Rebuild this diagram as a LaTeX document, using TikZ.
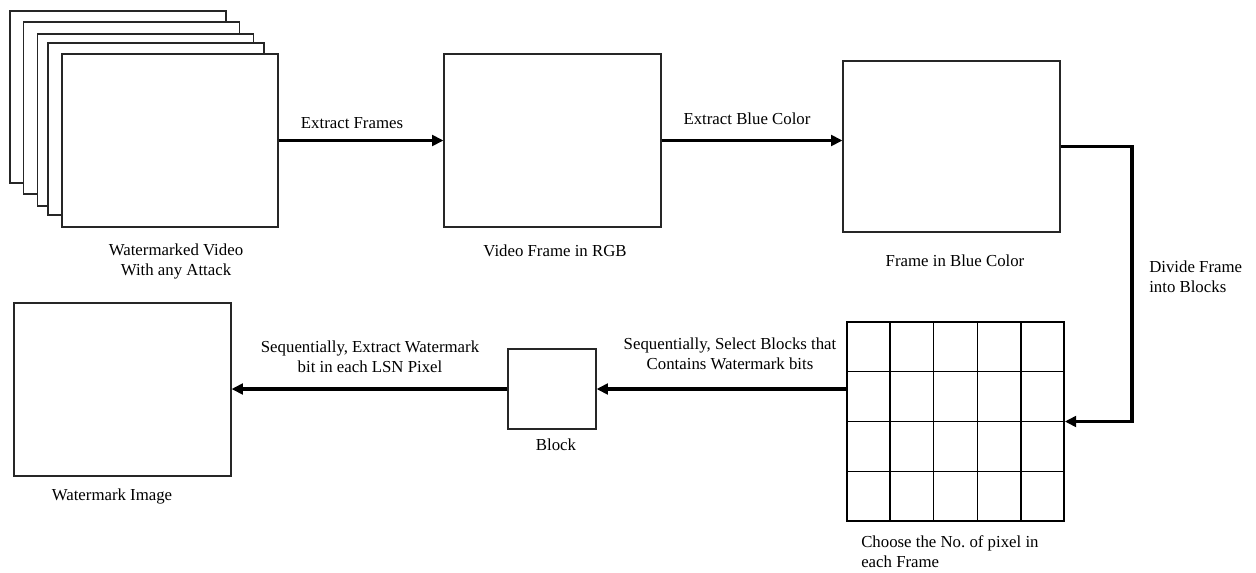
\documentclass[tikz,border=0pt]{standalone}
\usepackage{fontspec}
\setmainfont{Liberation Serif}
\usetikzlibrary{arrows.meta,calc}
\frenchspacing
\begin{document}
\begin{tikzpicture}[x=0.75pt,y=-0.75pt,
  pane/.style={draw=black!85, line width=0.8pt, fill=white, inner sep=0pt},
  flow/.style={line width=2.7pt, -{Triangle[length=8.5pt,width=8pt]}},
  txt/.style={font=\fontsize{12.6}{15}\selectfont, inner sep=0pt, align=center},
  gridline/.style={line width=1.2pt, black}
]
\useasboundingbox (0,0) rectangle (1256,572);
% stacked video frames
\node[pane, minimum width=162pt, minimum height=129pt] (f1) at (118,97) {};
\node[pane, minimum width=162pt, minimum height=129pt] (f2) at (131.5,108) {};
\node[pane, minimum width=162pt, minimum height=129pt] (f3) at (145.5,120) {};
\node[pane, minimum width=162pt, minimum height=129pt] (f4) at (156,129) {};
\node[pane, minimum width=162pt, minimum height=129.75pt] (f5) at (170,140.5) {};
\node[txt] (lvid) at (176,261) {Watermarked Video\\With any Attack};
% RGB frame
\node[pane, minimum width=162.75pt, minimum height=129.75pt] (rgb) at (552.5,140.5) {};
\node[txt] (lrgb) at (555,251) {Video Frame in RGB};
% blue frame
\node[pane, minimum width=162.75pt, minimum height=128.25pt] (blue) at (951.5,146.5) {};
\node[txt] (lblue) at (955,261) {Frame in Blue Color};
% grid
\node[draw, line width=1.2pt, inner sep=0pt, minimum width=162.75pt, minimum height=149.25pt] (grid) at (955.5,421.5) {};
\foreach \i in {1,...,4}
  \draw[gridline] ($(grid.south west)!\i/5!(grid.south east)$) -- ($(grid.north west)!\i/5!(grid.north east)$);
\foreach \j in {1,2,3}
  \draw[gridline] ($(grid.north west)!\j/4!(grid.south west)$) -- ($(grid.north east)!\j/4!(grid.south east)$);
\node[txt, align=left, anchor=west] (lgrid) at (861,551.5) {Choose the No. of pixel in\\each Frame};
% block
\node[pane, minimum width=66pt, minimum height=60pt] (block) at (552,389) {};
\node[txt] (lblock) at (556,445) {Block};
% watermark image
\node[pane, minimum width=162.75pt, minimum height=129.75pt] (wm) at (122.5,389.5) {};
\node[txt] (lwm) at (112,496) {Watermark Image};
% connectors
\draw[flow] (f5.east) -- (rgb.west);
\node[txt] (l1) at (352,123) {Extract Frames};
\draw[flow] (rgb.east) -- (rgb.east -| blue.west);
\node[txt] (l2) at (747,119) {Extract Blue Color};
\coordinate (turn) at (1132,146.5);
\draw[flow] (blue.east) -- (turn) |- (grid.east);
\node[txt, align=left, anchor=west] (l3) at (1149,277) {Divide Frame\\into Blocks};
\draw[flow] (grid.west |- block.east) -- (block.east);
\node[txt] (l4) at (730,353.5) {Sequentially, Select Blocks that\\Contains Watermark bits};
\draw[flow] (block.west) -- (block.west -| wm.east);
\node[txt] (l5) at (370,356.5) {Sequentially, Extract Watermark\\bit in each LSN Pixel};
\end{tikzpicture}
\end{document}
